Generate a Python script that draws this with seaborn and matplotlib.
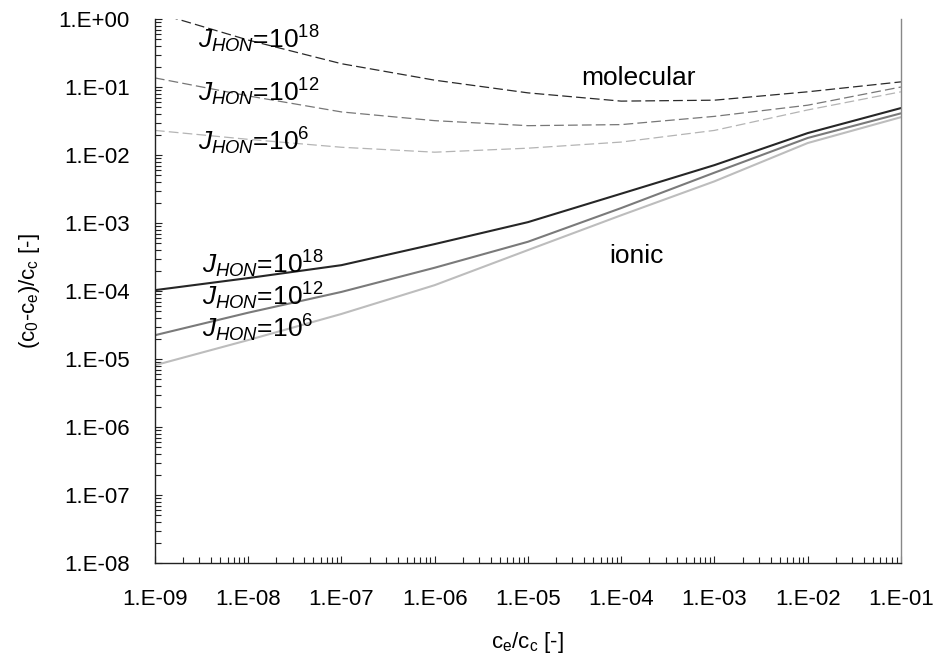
import numpy as np
import pandas as pd
import matplotlib.pyplot as plt
import matplotlib.ticker as mticker
import seaborn as sns

# ce/cc values (x) at each decade
ratio = [1e-9, 1e-8, 1e-7, 1e-6, 1e-5, 1e-4, 1e-3, 1e-2, 1e-1]

# molecular nucleation (dashed)
mol_18 = [1.25, 0.49, 0.22, 0.126, 0.082, 0.062, 0.064, 0.085, 0.119]
mol_12 = [0.136, 0.074, 0.043, 0.032, 0.027, 0.028, 0.037, 0.054, 0.100]
mol_6 = [0.023, 0.017, 0.013, 0.011, 0.0126, 0.0155, 0.023, 0.046, 0.085]

# ionic nucleation (solid)
ion_18 = [1.03e-4, 1.55e-4, 2.4e-4, 4.9e-4, 1.03e-3, 2.7e-3, 7.1e-3, 0.021, 0.049]
ion_12 = [2.24e-5, 4.8e-5, 9.7e-5, 2.2e-4, 5.3e-4, 1.66e-3, 5.5e-3, 0.0178, 0.041]
ion_6 = [8.1e-6, 1.9e-5, 4.6e-5, 1.22e-4, 4.0e-4, 1.3e-3, 4.1e-3, 0.015, 0.036]

sns.set_style("ticks")
plt.rcParams['font.family'] = ['Liberation Sans', 'DejaVu Sans']
plt.rcParams['mathtext.fontset'] = 'custom'
plt.rcParams['mathtext.rm'] = 'Liberation Sans'
plt.rcParams['mathtext.it'] = 'Liberation Sans:italic'
plt.rcParams['mathtext.default'] = 'regular'
plt.rcParams['lines.scale_dashes'] = False
plt.rcParams['text.color'] = 'black'
plt.rcParams['axes.labelcolor'] = 'black'
plt.rcParams['xtick.color'] = 'black'
plt.rcParams['ytick.color'] = 'black'

fig = plt.figure(figsize=(9.42, 6.69), dpi=100)
ax = fig.add_axes([0.1645, 0.1584, 0.7919, 0.8132])
ax.set_xscale('log')
ax.set_yscale('log')

dash = (0, (7, 3))
series = [
    (mol_6, '#b4b4b4', dash, 0.9),
    (mol_12, '#777777', dash, 0.9),
    (mol_18, '#2a2a2a', dash, 0.9),
    (ion_6, '#bdbdbd', '-', 1.5),
    (ion_12, '#7a7a7a', '-', 1.5),
    (ion_18, '#262626', '-', 1.5),
]
for vals, col, ls, lw in series:
    df = pd.DataFrame({'x': ratio, 'y': vals})
    sns.lineplot(data=df, x='x', y='y', ax=ax, color=col,
                 linestyle=ls, linewidth=lw)

ax.set_xlim(1e-9, 1e-1)
ax.set_ylim(1e-8, 1e0)

fmt = mticker.FuncFormatter(lambda v, p: "1.E%+03d" % int(round(np.log10(v))))
for axis in [ax.xaxis, ax.yaxis]:
    axis.set_major_locator(mticker.LogLocator(base=10, numticks=20))
    axis.set_minor_locator(mticker.LogLocator(base=10, subs=np.arange(2, 10), numticks=20))
    axis.set_major_formatter(fmt)
    axis.set_minor_formatter(mticker.NullFormatter())

ax.tick_params(which='both', direction='in', color='#222222', width=0.8,
               labelsize=16, top=False, right=False, bottom=True, left=True)
ax.tick_params(axis='x', which='both', pad=19)
ax.tick_params(axis='y', which='both', pad=18)
ax.tick_params(which='major', length=5)
ax.tick_params(which='minor', length=4)

for s in ['left', 'bottom']:
    ax.spines[s].set_color('#222222')
    ax.spines[s].set_linewidth(1.0)
ax.spines['right'].set_visible(True)
ax.spines['right'].set_color('#888888')
ax.spines['right'].set_linewidth(1.0)
ax.spines['top'].set_visible(False)

ax.set_xlabel(r"c$_e$/c$_c$ [-]", fontsize=16, labelpad=14)
ax.set_ylabel(r"(c$_0$-c$_e$)/c$_c$ [-]", fontsize=16, labelpad=12)

lab_fs = 19
jlab = [r"$\mathit{J}_{\mathit{HON}}$=10$^{18}$",
        r"$\mathit{J}_{\mathit{HON}}$=10$^{12}$",
        r"$\mathit{J}_{\mathit{HON}}$=10$^{6}$"]
for txt, yv in zip(jlab, [0.375, 0.0622, 0.01185]):
    ax.text(2.9e-9, yv, txt, fontsize=lab_fs, va='baseline', ha='left')
for txt, yv in zip(jlab, [1.84e-4, 6.2e-5, 2.1e-5]):
    ax.text(3.19e-9, yv, txt, fontsize=lab_fs, va='baseline', ha='left')
ax.text(1.55e-4, 0.107, "molecular", fontsize=lab_fs, va='baseline', ha='center')
ax.text(1.44e-4, 2.58e-4, "ionic", fontsize=lab_fs, va='baseline', ha='center')

plt.savefig('out.png', dpi=100)
